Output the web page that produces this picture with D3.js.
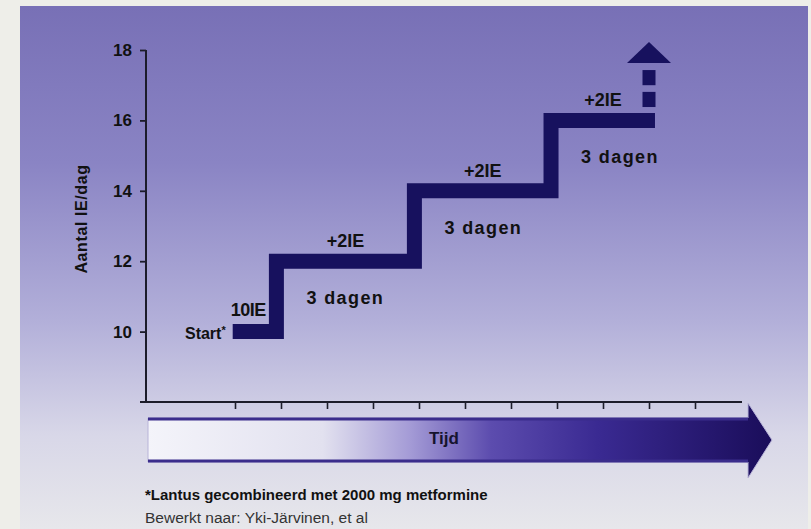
<!DOCTYPE html>
<html>
<head>
<meta charset="utf-8">
<script src="https://cdn.jsdelivr.net/npm/d3@7"></script>
<style>
    html, body { margin: 0; padding: 0; background: #eeeee9; }
    svg { display: block; font-family: "Liberation Sans", Arial, sans-serif; }
</style>
</head>
<body>
<div id="chart"></div>
<script>
// Data
const yTicks = [10, 12, 14, 16, 18];
const xTickDays = [2, 3, 4, 5, 6, 7, 8, 9, 10, 11, 12];
const stepDays = [1.95, 2.9, 5.9, 8.87, 11.13];
const stepDoses = [10, 12, 14, 16, 16];
const stepLabels = ["+2IE", "+2IE", "+2IE"];
const durationLabels = ["3 dagen", "3 dagen", "3 dagen"];
const arrowDay = 11;
const arrowDashes = [[16.38, 16.81], [17.0, 17.43]];
const arrowHead = [17.63, 18.23];
const startLabel = "Start";
const startDoseLabel = "10IE";
const yTitle = "Aantal IE/dag";
const timeTitle = "Tijd";
const footnote = "*Lantus gecombineerd met 2000 mg metformine";
const source = "Bewerkt naar: Yki-Järvinen, et al";

const width = 811;
const height = 529;
const navy = "#17115e";

const svg = d3.select("#chart")
    .append("svg")
    .attr("width", width)
    .attr("height", height);

const defs = svg.append("defs");

// Panel background gradient
const bg = defs.append("linearGradient")
    .attr("id", "bg")
    .attr("x1", 0).attr("y1", 0).attr("x2", 0).attr("y2", 1);
[["0", "#7870b6"], ["0.3", "#8a84c4"], ["0.6", "#b2afd9"], ["0.82", "#d8d7e8"], ["1", "#e7e7eb"]]
    .forEach(s => bg.append("stop").attr("offset", s[0]).attr("stop-color", s[1]));

// Time bar gradient
const tg = defs.append("linearGradient")
    .attr("id", "tg")
    .attr("gradientUnits", "userSpaceOnUse")
    .attr("x1", 148).attr("y1", 0).attr("x2", 772).attr("y2", 0);
[[0, "#f4f4fa"], [0.28, "#e2e1ef"], [0.42, "#a49bd6"], [0.55, "#5c4cae"], [0.72, "#3a2a92"], [1, "#1a0d5a"]]
    .forEach(s => tg.append("stop").attr("offset", s[0]).attr("stop-color", s[1]));

svg.append("rect")
    .attr("x", 20).attr("y", 6)
    .attr("width", 788).attr("height", height - 6)
    .attr("fill", "url(#bg)");

// Scales
const x = d3.scaleLinear().domain([0, 13]).range([143, 741]);
const y = d3.scaleLinear().domain([8, 18]).range([402, 50]);
const axisLeft = 146;

// Y axis
const yAxis = svg.append("g")
    .attr("transform", `translate(${axisLeft},0)`)
    .call(d3.axisLeft(y).tickValues(yTicks).tickSize(6).tickSizeOuter(0).tickPadding(8));
yAxis.select(".domain").remove();
yAxis.selectAll(".tick line").attr("stroke", "#1c1c2a").attr("stroke-width", 1.8);
yAxis.selectAll(".tick text")
    .attr("font-size", 17)
    .attr("font-weight", "bold")
    .attr("fill", "#111")
    .attr("font-family", "Liberation Sans, Arial, sans-serif");

svg.append("line")
    .attr("x1", axisLeft).attr("x2", axisLeft)
    .attr("y1", y(18)).attr("y2", y(8))
    .attr("stroke", "#1c1c2a").attr("stroke-width", 2);

// X axis
const xAxis = svg.append("g")
    .attr("transform", `translate(0,${y(8)})`)
    .call(d3.axisBottom(x).tickValues(xTickDays).tickSize(7).tickFormat(""));
xAxis.select(".domain").remove();
xAxis.selectAll(".tick line").attr("stroke", "#1c1c2a").attr("stroke-width", 1.6);

svg.append("line")
    .attr("x1", 140).attr("x2", 742)
    .attr("y1", y(8)).attr("y2", y(8))
    .attr("stroke", "#1c1c2a").attr("stroke-width", 2);

// Y title
svg.append("text")
    .attr("transform", `translate(87,${y(13.2)}) rotate(-90)`)
    .attr("text-anchor", "middle")
    .attr("font-size", 16)
    .attr("font-weight", "bold")
    .attr("letter-spacing", 0.6)
    .attr("fill", "#111")
    .text(yTitle);

// Staircase
const stepData = stepDays.map((d, i) => ({ day: d, dose: stepDoses[i] }));
const line = d3.line()
    .x(d => x(d.day))
    .y(d => y(d.dose))
    .curve(d3.curveStepAfter);

svg.append("path")
    .datum(stepData)
    .attr("d", line)
    .attr("fill", "none")
    .attr("stroke", navy)
    .attr("stroke-width", 15)
    .attr("stroke-linejoin", "miter")
    .attr("stroke-linecap", "butt");

// Dashed arrow going up
const colW = 13;
svg.selectAll("rect.dash")
    .data(arrowDashes)
    .enter()
    .append("rect")
    .attr("class", "dash")
    .attr("x", x(arrowDay) - colW / 2)
    .attr("width", colW)
    .attr("y", d => y(d[1]))
    .attr("height", d => y(d[0]) - y(d[1]))
    .attr("fill", navy);

svg.append("path")
    .attr("d", `M${x(arrowDay) - 22},${y(arrowHead[0])} L${x(arrowDay)},${y(arrowHead[1])} L${x(arrowDay) + 22},${y(arrowHead[0])} Z`)
    .attr("fill", navy);

// Step labels
const labelStyle = sel => sel
    .attr("font-size", 18)
    .attr("font-weight", "bold")
    .attr("fill", "#111");

svg.selectAll("text.plus")
    .data(stepLabels)
    .enter()
    .append("text")
    .attr("class", "plus")
    .attr("x", (d, i) => x((stepDays[i + 1] + stepDays[i + 2]) / 2))
    .attr("y", (d, i) => y(stepDoses[i + 1]) - 14)
    .attr("text-anchor", "middle")
    .call(labelStyle)
    .text(d => d);

svg.selectAll("text.dur")
    .data(durationLabels)
    .enter()
    .append("text")
    .attr("class", "dur")
    .attr("x", (d, i) => x(stepDays[i + 1]) + 30)
    .attr("y", (d, i) => y(stepDoses[i + 1]) + 43)
    .attr("letter-spacing", 1.4)
    .call(labelStyle)
    .text(d => d);

svg.append("text")
    .attr("x", x(stepDays[0]) - 2)
    .attr("y", y(stepDoses[0]) - 16)
    .attr("letter-spacing", -0.5)
    .call(labelStyle)
    .text(startDoseLabel);

const st = svg.append("text")
    .attr("x", x(stepDays[0]) - 7)
    .attr("y", y(stepDoses[0]) + 7)
    .attr("text-anchor", "end")
    .attr("font-size", 16)
    .attr("font-weight", "bold")
    .attr("fill", "#111");
st.append("tspan").text(startLabel);
st.append("tspan").attr("font-size", 11).attr("dy", -5).text("*");

// Time bar with arrow
const barTop = 418, barBottom = 462, shaftEnd = 748, tipX = 772;
const barMid = (barTop + barBottom) / 2;
svg.append("path")
    .attr("d", `M148,${barTop} H${shaftEnd} V${barMid - 37} L${tipX},${barMid} L${shaftEnd},${barMid + 38} V${barBottom} H148 Z`)
    .attr("fill", "url(#tg)")
    .attr("stroke", "#b8b4d8")
    .attr("stroke-width", 1);

[barTop + 1, barBottom - 1].forEach(yy => {
    svg.append("line")
        .attr("x1", 148).attr("x2", shaftEnd)
        .attr("y1", yy).attr("y2", yy)
        .attr("stroke", "#3b2d8c")
        .attr("stroke-width", 3);
});

svg.append("text")
    .attr("x", 444)
    .attr("y", 444)
    .attr("text-anchor", "middle")
    .attr("font-size", 17)
    .attr("font-weight", "bold")
    .attr("fill", "#16142e")
    .text(timeTitle);

// Footnotes
svg.append("text")
    .attr("x", 145)
    .attr("y", 500)
    .attr("font-size", 15)
    .attr("font-weight", "bold")
    .attr("fill", "#111")
    .text(footnote);

svg.append("text")
    .attr("x", 145)
    .attr("y", 523)
    .attr("font-size", 15.5)
    .attr("fill", "#333")
    .text(source);
</script>
</body>
</html>
